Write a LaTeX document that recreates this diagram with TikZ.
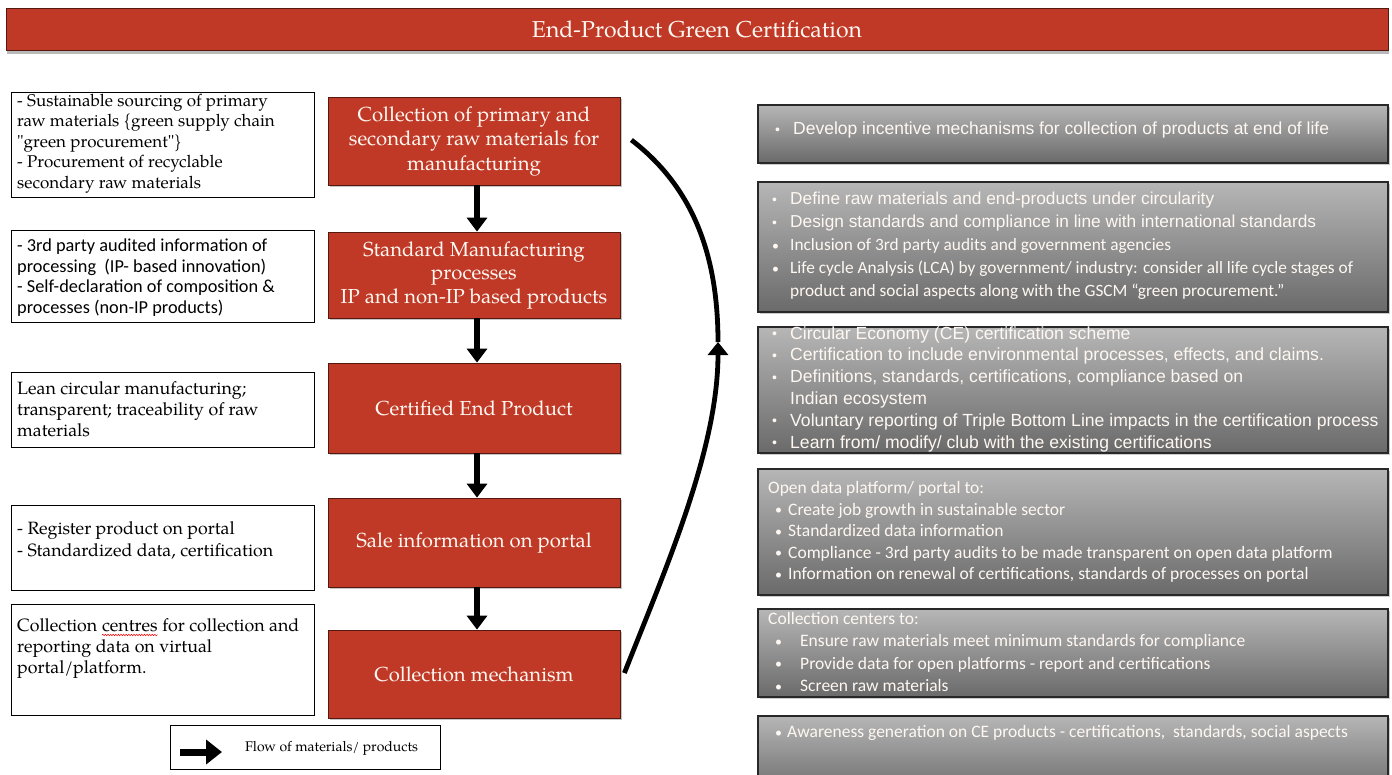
\documentclass[tikz,border=0pt]{standalone}
\usepackage{fontspec}
\setmainfont{TeX Gyre Pagella}
\newfontfamily\arialf{Liberation Sans}
\newfontfamily\calf{Carlito}
\usetikzlibrary{shadows,arrows.meta,decorations.pathmorphing}
\definecolor{redbox}{RGB}{192,57,38}
\definecolor{redborder}{RGB}{85,25,15}
\definecolor{gtop}{RGB}{182,182,182}
\definecolor{gbot}{RGB}{106,106,106}
\definecolor{gborder}{RGB}{40,40,40}
\definecolor{txtwhite}{RGB}{255,248,242}
\newcommand{\bl}[1]{\makebox[#1][l]{\raisebox{0.5pt}{\scalebox{0.8}{\textbullet}}}}
\newcommand{\sq}{{\addfontfeatures{Ligatures=TeXOff}"}}
\newcommand{\spellmark}[1]{\tikz[baseline=(sw.base)]{\node[inner sep=0pt,outer sep=0pt] (sw) {#1};
  \draw[red, line width=0.5pt, decorate, decoration={snake,amplitude=0.8pt,segment length=2.6pt}]
    ([yshift=-3pt]sw.base west) -- ([yshift=-3pt]sw.base east);}}
\begin{document}
\begin{tikzpicture}[x=1pt,y=-1pt,
  redstep/.style={draw=redborder, line width=0.8pt, fill=redbox,
    drop shadow={opacity=0.45,shadow xshift=1.5pt,shadow yshift=-2pt},
    inner sep=0pt, text=txtwhite, align=center,
    font=\fontsize{20.3}{24.5}\selectfont, minimum width=292pt},
  notebox/.style={draw=black, line width=0.9pt, fill=white, inner sep=0pt, minimum width=303pt},
  notetext/.style={anchor=west, align=left, inner sep=0pt, font=\fontsize{17.8}{21}\selectfont},
  greybox/.style={draw=gborder, line width=1.2pt, top color=gtop, bottom color=gbot,
    drop shadow={opacity=0.4,shadow xshift=1.5pt,shadow yshift=-2pt},
    inner sep=0pt, minimum width=630pt},
  greytext/.style={anchor=west, align=left, inner sep=0pt, text=txtwhite},
  flow/.style={line width=6pt, -{Triangle[length=14pt,width=20pt]}},
  loopline/.style={line width=4.8pt},
]
\path[use as bounding box, clip] (0,0) rectangle (1392,774);
\fill[white] (0,0) rectangle (1392,774);

% title
\node[fill=redbox, draw=redborder, line width=0.8pt, minimum width=1382pt, minimum height=42pt,
  drop shadow={opacity=0.55,shadow xshift=1pt,shadow yshift=-4pt}, text=txtwhite,
  font=\fontsize{23}{26}\selectfont] (title) at (697,29) {End-Product Green Certification};

% red process boxes
\node[redstep, minimum height=88pt] (R1) at (474,141) {Collection of primary and\\secondary raw materials for\\manufacturing};
\node[redstep, minimum height=86pt, font=\fontsize{20.3}{23.5}\selectfont] (R2) at (474,275) {Standard Manufacturing\\processes\\IP and non-IP based products};
\node[redstep, minimum height=90pt] (R3) at (474,408) {Certified End Product};
\node[redstep, minimum height=89pt] (R4) at (474,542.5) {Sale information on portal};
\node[redstep, minimum height=88pt] (R5) at (474,674) {Collection mechanism};

\draw[flow] ([xshift=3pt]R1.south) -- ([xshift=3pt]R2.north);
\draw[flow] ([xshift=3pt]R2.south) -- ([xshift=3pt]R3.north);
\draw[flow] ([xshift=3pt]R3.south) -- ([xshift=3pt]R4.north);
\draw[flow] ([xshift=3pt]R4.south) -- ([xshift=3pt]R5.north);

% left note boxes
\node[notebox, minimum height=105pt] (L1) at (163,144.5) {};
\node[notetext, font=\fontsize{17}{20.5}\selectfont] (T1) at (17,143.5) {- Sustainable sourcing of primary\\raw materials \{green supply chain\\\sq green procurement\sq\}\\- Procurement of recyclable\\secondary raw materials};
\node[notebox, minimum height=92pt] (L2) at (163,276) {};
\node[notetext, font=\calf\fontsize{18.3}{20.5}\selectfont] (T2) at (17,277.5) {- 3rd party audited information of\\processing\ \ (IP- based innovation)\\- Self-declaration of composition \&\\processes (non-IP products)};
\node[notebox, minimum height=75pt] (L3) at (163,409.5) {};
\node[notetext] (T3) at (17,409) {Lean circular manufacturing;\\transparent; traceability of raw\\materials};
\node[notebox, minimum height=85pt] (L4) at (163,547.5) {};
\node[notetext, font=\fontsize{17.8}{22}\selectfont] (T4) at (17,540.5) {- Register product on portal\\- Standardized data, certification};
\node[notebox, minimum height=111pt] (L5) at (163,659.5) {};
\node[notetext] (T5) at (17,649) {Collection \spellmark{centres} for collection and\\reporting data on virtual\\portal/platform.};

% legend
\node[notebox, minimum width=270pt, minimum height=44pt] (leg) at (305,747) {};
\coordinate (la) at (180,752);
\coordinate (lb) at (222,752);
\draw[line width=7pt, -{Triangle[length=16pt,width=24pt]}] (la) -- (lb);
\node[notetext, font=\fontsize{14}{18}\selectfont] (legt) at (245,748) {Flow of materials/ products};

% loop arrow
\coordinate (cm) at (718,342);
\draw[loopline, -{Triangle[length=13pt,width=20pt]}] ([xshift=4pt,yshift=1pt]R5.east) .. controls (665,570) and (718,450) .. (cm);
\draw[loopline] (cm) .. controls (718,250) and (690,185) .. ([xshift=11pt,yshift=1pt]R1.east);

% grey boxes
\node[greybox, minimum height=58pt] (G1) at (1073,134) {};
\node[greytext, font=\arialf\fontsize{17.5}{20}\selectfont] (GT1) at (775,130) {\bl{18pt}Develop incentive mechanisms for collection of products at end of life};

\node[greybox, minimum height=130pt] (G2) at (1073,247) {};
\node[greytext, font=\fontsize{17.3}{23}\selectfont] (GT2) at (772,246) {\arialf\bl{18pt}Define raw materials and end-products under circularity\\
\arialf\bl{18pt}Design standards and compliance in line with international standards\\
\calf\bl{18pt}Inclusion of 3rd party audits and government agencies\\
\calf\bl{18pt}Life cycle Analysis (LCA) by government/ industry: consider all life cycle stages of\\
\calf\hspace*{18pt}product and social aspects along with the GSCM “green procurement.”};

\node[greybox, minimum height=126pt] (G3) at (1073,390) {};
\node[greytext, font=\arialf\fontsize{17.6}{21.8}\selectfont] (GT3) at (772,389) {\bl{18pt}Circular Economy (CE) certification scheme\\
\bl{18pt}Certification to include environmental processes, effects, and claims.\\
\bl{18pt}Definitions, standards, certifications, compliance based on\\
\hspace*{18pt}Indian ecosystem\\
\bl{18pt}Voluntary reporting of Triple Bottom Line impacts in the certification process\\
\bl{18pt}Learn from/ modify/ club with the existing certifications};

\node[greybox, minimum height=126pt] (G4) at (1073,532) {};
\node[greytext, font=\calf\fontsize{17.5}{21.5}\selectfont] (GT4) at (768,532) {Open data platform/ portal to:\\
\hspace*{7pt}\bl{13pt}Create job growth in sustainable sector\\
\hspace*{7pt}\bl{13pt}Standardized data information\\
\hspace*{7pt}\bl{13pt}Compliance - 3rd party audits to be made transparent on open data platform\\
\hspace*{7pt}\bl{13pt}Information on renewal of certifications, standards of processes on portal};

\node[greybox, minimum height=88pt] (G5) at (1073,653) {};
\node[greytext, font=\calf\fontsize{17.5}{22.5}\selectfont] (GT5) at (768,652) {Collection centers to:\\
\hspace*{7pt}\bl{25pt}Ensure raw materials meet minimum standards for compliance\\
\hspace*{7pt}\bl{25pt}Provide data for open platforms - report and certifications\\
\hspace*{7pt}\bl{25pt}Screen raw materials};

\node[greybox, minimum height=80pt] (G6) at (1073,756) {};
\node[greytext, font=\calf\fontsize{17.5}{20}\selectfont] (GT6) at (775,733) {\bl{12pt}Awareness generation on CE products - certifications,\ \ standards, social aspects};
\end{tikzpicture}
\end{document}
